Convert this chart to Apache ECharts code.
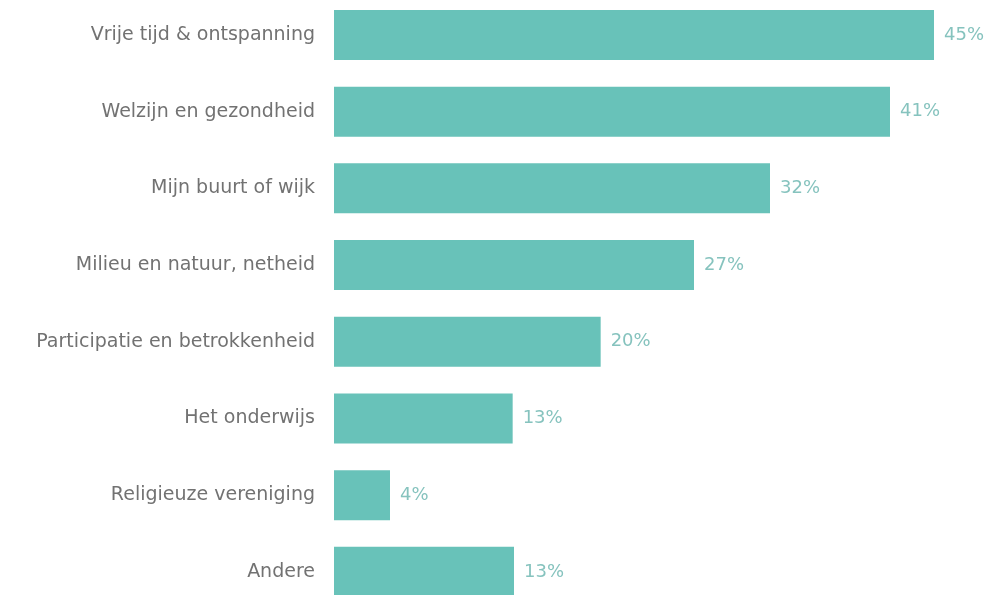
<!DOCTYPE html>
<html>
<head>
<meta charset="utf-8">
<script src="https://cdn.jsdelivr.net/npm/echarts@6/dist/echarts.min.js"></script>
<style>
  html, body { margin: 0; padding: 0; background: #ffffff; }
  #chart { width: 991px; height: 595px; }
</style>
</head>
<body>
<div id="chart"></div>
<script>
// Categories (top to bottom)
const categories = [
  'Vrije tijd & ontspanning',
  'Welzijn en gezondheid',
  'Mijn buurt of wijk',
  'Milieu en natuur, netheid',
  'Participatie en betrokkenheid',
  'Het onderwijs',
  'Religieuze vereniging',
  'Andere'
];
// Bar lengths (percent)
const values = [45.0, 41.7, 32.7, 27.0, 20.0, 13.4, 4.2, 13.5];
// Value labels as printed in the picture
const valueLabels = ['45%', '41%', '32%', '27%', '20%', '13%', '4%', '13%'];

const chart = echarts.init(document.getElementById('chart'), null, { renderer: 'canvas' });
chart.setOption({
  animation: false,
  backgroundColor: '#ffffff',
  grid: {
    left: 334, top: -3.4, width: 600, height: 613.6,
    containLabel: false, outerBoundsMode: 'none'
  },
  xAxis: {
    type: 'value', min: 0, max: 45, show: false
  },
  yAxis: {
    type: 'category',
    data: categories,
    inverse: true,
    axisLine: { show: false },
    axisTick: { show: false },
    splitLine: { show: false },
    axisLabel: {
      margin: 19,
      color: '#727272',
      fontSize: 19,
      fontFamily: 'DejaVu Sans'
    }
  },
  series: [{
    type: 'bar',
    data: values,
    barWidth: 50,
    itemStyle: { color: '#68c2b9' },
    label: {
      show: true,
      position: 'right',
      distance: 10,
      color: '#86c3be',
      fontSize: 18,
      fontFamily: 'DejaVu Sans',
      formatter: p => valueLabels[p.dataIndex]
    }
  }]
});
</script>
</body>
</html>
